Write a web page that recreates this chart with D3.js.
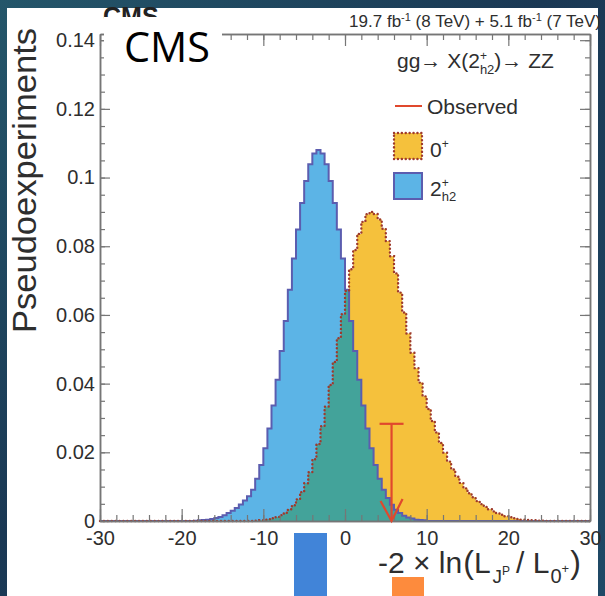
<!DOCTYPE html>
<html>
<head>
<meta charset="utf-8">
<script src="https://cdn.jsdelivr.net/npm/d3@7"></script>
<style>
  body { margin: 0; background: #1d3b55; }
  svg { display: block; }
  text { font-family: "Liberation Sans", Arial, sans-serif; fill: #2e2e2e; }
</style>
</head>
<body>
<div id="chart"></div>
<script>
// bin width of both pseudoexperiment histograms
const binWidth = 0.5

// 2+h2 hypothesis, first bin starts at -18.5
const spin2Start = -18.5
const spin2Values = [
  0.0001, 0.0002, 0.0003, 0.0004, 0.0006, 0.0009, 0.0012, 0.0017, 0.0023, 0.0030,
  0.0038, 0.0048, 0.0060, 0.0072, 0.0091, 0.0123, 0.0163, 0.0212, 0.0269, 0.0336,
  0.0411, 0.0495, 0.0582, 0.0673, 0.0764, 0.0849, 0.0926, 0.0990, 0.1039, 0.1070,
  0.1080,
  0.1070, 0.1039, 0.0990, 0.0926, 0.0849, 0.0764, 0.0673, 0.0582, 0.0495, 0.0411,
  0.0336, 0.0269, 0.0212, 0.0163, 0.0123, 0.0091, 0.0067, 0.0047, 0.0033, 0.0023,
  0.0015, 0.0010, 0.0007, 0.0004, 0.0003, 0.0002
]

// 0+ hypothesis, first bin starts at -11
const spin0Start = -11
const spin0Values = [
  0.0001, 0.0002, 0.0004, 0.0005, 0.0008, 0.0012, 0.0017, 0.0024, 0.0034, 0.0046,
  0.0063, 0.0084, 0.0110, 0.0142, 0.0180, 0.0224, 0.0276, 0.0333, 0.0396, 0.0463,
  0.0532, 0.0602, 0.0670, 0.0733, 0.0789, 0.0836, 0.0871, 0.0893,
  0.0900,
  0.0894, 0.0878, 0.0851, 0.0815, 0.0771, 0.0721, 0.0665, 0.0607, 0.0546,
  0.0490, 0.0445, 0.0403, 0.0363, 0.0326, 0.0291, 0.0258, 0.0227, 0.0199, 0.0173,
  0.0150, 0.0129, 0.0111, 0.0095, 0.0081, 0.0069, 0.0058, 0.0049, 0.0041, 0.0034,
  0.0028, 0.0022, 0.0018, 0.0014, 0.0011, 0.0008, 0.0006, 0.0004, 0.0003, 0.0002,
  0.0002, 0.0001, 0.0001
]

// observed value and the height the arrow starts from
const observedValue = 5.7
const observedTop = 0.0283

const xTicks = [-30, -20, -10, 0, 10, 20, 30]
const xTickLabels = ["-30", "-20", "-10", "0", "10", "20", "30"]
const yTicks = [0, 0.02, 0.04, 0.06, 0.08, 0.1, 0.12, 0.14]
const yTickLabels = ["0", "0.02", "0.04", "0.06", "0.08", "0.1", "0.12", "0.14"]

const W = 605, H = 596
const svg = d3.select("#chart").append("svg").attr("width", W).attr("height", H)

// slide background
const grad = svg.append("defs").append("linearGradient")
  .attr("id", "bg").attr("x1", 0).attr("y1", 0).attr("x2", 1).attr("y2", 1)
grad.append("stop").attr("offset", "0%").attr("stop-color", "#24566a")
grad.append("stop").attr("offset", "45%").attr("stop-color", "#1a3854")
grad.append("stop").attr("offset", "100%").attr("stop-color", "#1f4966")
svg.append("rect").attr("width", W).attr("height", H).attr("fill", "url(#bg)")
svg.append("rect").attr("x", 7).attr("y", 8).attr("width", 591).attr("height", H - 8).attr("fill", "#fff")

// ROOT's own CMS label, mostly hidden under the slide's box
svg.append("text").attr("x", 103).attr("y", 25).style("font-weight", "bold")
  .style("font-size", "25px").style("fill", "#222").text("CMS")

const x = d3.scaleLinear().domain([-30, 30]).range([100, 590])
const y = d3.scaleLinear().domain([0, 0.1418]).range([521, 34])

function stepPoints(start, values) {
  const pts = [[-30, 0]]
  values.forEach((v, i) => pts.push([start + i * binWidth, v]))
  pts.push([start + values.length * binWidth, 0], [30, 0])
  return pts
}

// overlap of the two histograms, bin by bin
const overlap = spin2Values.map((v, i) => {
  const j = Math.round((spin2Start + i * binWidth - spin0Start) / binWidth)
  return j >= 0 && j < spin0Values.length ? Math.min(v, spin0Values[j]) : 0
})

const area = d3.area().x(d => x(d[0])).y0(y(0)).y1(d => y(d[1])).curve(d3.curveStepAfter)
const line = d3.line().x(d => x(d[0])).y(d => y(d[1])).curve(d3.curveStepAfter)

const plot = svg.append("g")
plot.append("path").attr("d", area(stepPoints(spin0Start, spin0Values))).attr("fill", "#f5c13c")
plot.append("path").attr("d", area(stepPoints(spin2Start, spin2Values))).attr("fill", "#5cb4e6")
plot.append("path").attr("d", area(stepPoints(spin2Start, overlap))).attr("fill", "#43a39a")
plot.append("path").attr("d", line(stepPoints(spin2Start, spin2Values)))
  .attr("fill", "none").attr("stroke", "#5b5daf").attr("stroke-width", 2)
plot.append("path").attr("d", line(stepPoints(spin0Start, spin0Values)))
  .attr("fill", "none").attr("stroke", "#9e3a2c").attr("stroke-width", 2.4)
  .attr("stroke-dasharray", "0.1 3.8").attr("stroke-linecap", "round")

// frame with ticks on all four sides, pointing inwards
const axisColor = "#767676"
function styleAxis(g) {
  g.select(".domain").attr("stroke", axisColor).attr("stroke-width", 1.5)
  g.selectAll(".tick line").attr("stroke", axisColor).attr("stroke-width", 1.2)
  g.selectAll(".tick text").style("font-size", "20px").style("fill", "#2e2e2e")
    .style("font-family", "Liberation Sans, Arial, sans-serif")
}
const xMinor = d3.range(-30, 30.01, 2)
const yMinor = d3.range(0, 0.1401, 0.005)

svg.append("g").attr("transform", `translate(0,${y(0)})`)
  .call(d3.axisBottom(x).tickValues(xMinor).tickSize(-6).tickFormat("").tickSizeOuter(0)).call(styleAxis)
svg.append("g").attr("transform", `translate(0,${y(0)})`)
  .call(d3.axisBottom(x).tickValues(xTicks).tickSize(-12).tickPadding(10)
    .tickFormat((d, i) => xTickLabels[i]).tickSizeOuter(0)).call(styleAxis)
svg.append("g").attr("transform", `translate(0,${y.range()[1]})`)
  .call(d3.axisTop(x).tickValues(xMinor).tickSize(-6).tickFormat("").tickSizeOuter(0)).call(styleAxis)
svg.append("g").attr("transform", `translate(0,${y.range()[1]})`)
  .call(d3.axisTop(x).tickValues(xTicks).tickSize(-12).tickFormat("").tickSizeOuter(0)).call(styleAxis)

svg.append("g").attr("transform", `translate(${x(-30)},0)`)
  .call(d3.axisLeft(y).tickValues(yMinor).tickSize(-5).tickFormat("").tickSizeOuter(0)).call(styleAxis)
svg.append("g").attr("transform", `translate(${x(-30)},0)`)
  .call(d3.axisLeft(y).tickValues(yTicks).tickSize(-10).tickPadding(5)
    .tickFormat((d, i) => yTickLabels[i]).tickSizeOuter(0)).call(styleAxis)
svg.append("g").attr("transform", `translate(${x(30)},0)`)
  .call(d3.axisRight(y).tickValues(yMinor).tickSize(-5).tickFormat("").tickSizeOuter(0)).call(styleAxis)
svg.append("g").attr("transform", `translate(${x(30)},0)`)
  .call(d3.axisRight(y).tickValues(yTicks).tickSize(-10).tickFormat("").tickSizeOuter(0)).call(styleAxis)

// observed arrow
const xo = x(observedValue), yTop = y(observedTop), y0 = y(0)
const arrow = svg.append("g").attr("stroke", "#e0482d").attr("stroke-width", 2.2).attr("fill", "none")
arrow.append("line").attr("x1", xo).attr("x2", xo).attr("y1", yTop).attr("y2", y0)
arrow.append("line").attr("x1", xo - 12).attr("x2", xo + 12).attr("y1", yTop).attr("y2", yTop)
arrow.append("path").attr("d", `M${xo - 11},${y0 - 20}L${xo},${y0}L${xo + 11},${y0 - 22}`)

// axis titles
svg.append("text").attr("transform", "translate(36,28) rotate(-90)")
  .attr("text-anchor", "end").style("font-size", "33px")
  .attr("textLength", 305).attr("lengthAdjust", "spacingAndGlyphs").text("Pseudoexperiments")

const xt = svg.append("text").attr("x", 378).attr("y", 573).style("font-size", "30px")
xt.append("tspan").text("-2 × ln")
xt.append("tspan").attr("dx", 1).style("font-size", "32px").text("(")
xt.append("tspan").text("L")
xt.append("tspan").attr("dx", 2).attr("dy", 10).style("font-size", "19px").text("J")
xt.append("tspan").attr("dy", -8).style("font-size", "12px").text("P")
xt.append("tspan").attr("dy", -2).attr("dx", 6).text("/ L")
xt.append("tspan").attr("dx", 1).attr("dy", 10).style("font-size", "20px").text("0")
xt.append("tspan").attr("dy", -10).style("font-size", "13px").text("+")
xt.append("tspan").attr("dx", 1).style("font-size", "32px").text(")")

// header
const hd = svg.append("text").attr("x", 601).attr("y", 27).attr("text-anchor", "end").style("font-size", "17px")
hd.append("tspan").text("19.7 fb")
hd.append("tspan").attr("dy", -6).style("font-size", "11px").text("-1")
hd.append("tspan").attr("dy", 6).text(" (8 TeV) + 5.1 fb")
hd.append("tspan").attr("dy", -6).style("font-size", "11px").text("-1")
hd.append("tspan").attr("dy", 6).text(" (7 TeV)")

// slide's CMS box
svg.append("rect").attr("x", 104).attr("y", 17).attr("width", 118).attr("height", 54).attr("fill", "#fff")
svg.append("text").attr("x", 124).attr("y", 62).style("font-family", "'Open Sans', 'Noto Sans', sans-serif")
  .style("font-size", "42px").style("fill", "#000").attr("textLength", 86)
  .attr("lengthAdjust", "spacingAndGlyphs").text("CMS")

// process label
const pr = svg.append("text").attr("x", 397).attr("y", 68).style("font-size", "21px")
pr.append("tspan").text("gg→ X(2")
pr.append("tspan").attr("dy", -8).style("font-size", "12px").text("+")
pr.append("tspan").attr("dx", -7).attr("dy", 14).style("font-size", "13px").text("h2")
pr.append("tspan").attr("dy", -6).text(")→ ZZ")

// legend
const lg = svg.append("g")
lg.append("line").attr("x1", 395).attr("x2", 422).attr("y1", 106).attr("y2", 106)
  .attr("stroke", "#e0482d").attr("stroke-width", 2)
lg.append("text").attr("x", 427).attr("y", 114).style("font-size", "21px").text("Observed")
lg.append("rect").attr("x", 394).attr("y", 133).attr("width", 28).attr("height", 26)
  .attr("fill", "#f5c13c").attr("stroke", "#9e3a2c").attr("stroke-width", 2.4)
  .attr("stroke-dasharray", "0.1 3.8").attr("stroke-linecap", "round")
const l0 = lg.append("text").attr("x", 430).attr("y", 157).style("font-size", "21px")
l0.append("tspan").text("0")
l0.append("tspan").attr("dy", -9).style("font-size", "12px").text("+")
lg.append("rect").attr("x", 394).attr("y", 173).attr("width", 28).attr("height", 26)
  .attr("fill", "#5cb4e6").attr("stroke", "#5b5daf").attr("stroke-width", 2)
const l2 = lg.append("text").attr("x", 430).attr("y", 196).style("font-size", "21px")
l2.append("tspan").text("2")
l2.append("tspan").attr("dy", -9).style("font-size", "12px").text("+")
l2.append("tspan").attr("dx", -7).attr("dy", 14).style("font-size", "13px").text("h2")

// coloured patches left on the slide
svg.append("rect").attr("x", 294).attr("y", 533).attr("width", 33).attr("height", H - 533).attr("fill", "#4184d8")
svg.append("rect").attr("x", 392).attr("y", 577).attr("width", 32).attr("height", H - 577).attr("fill", "#fd8b3d")
</script>
</body>
</html>
